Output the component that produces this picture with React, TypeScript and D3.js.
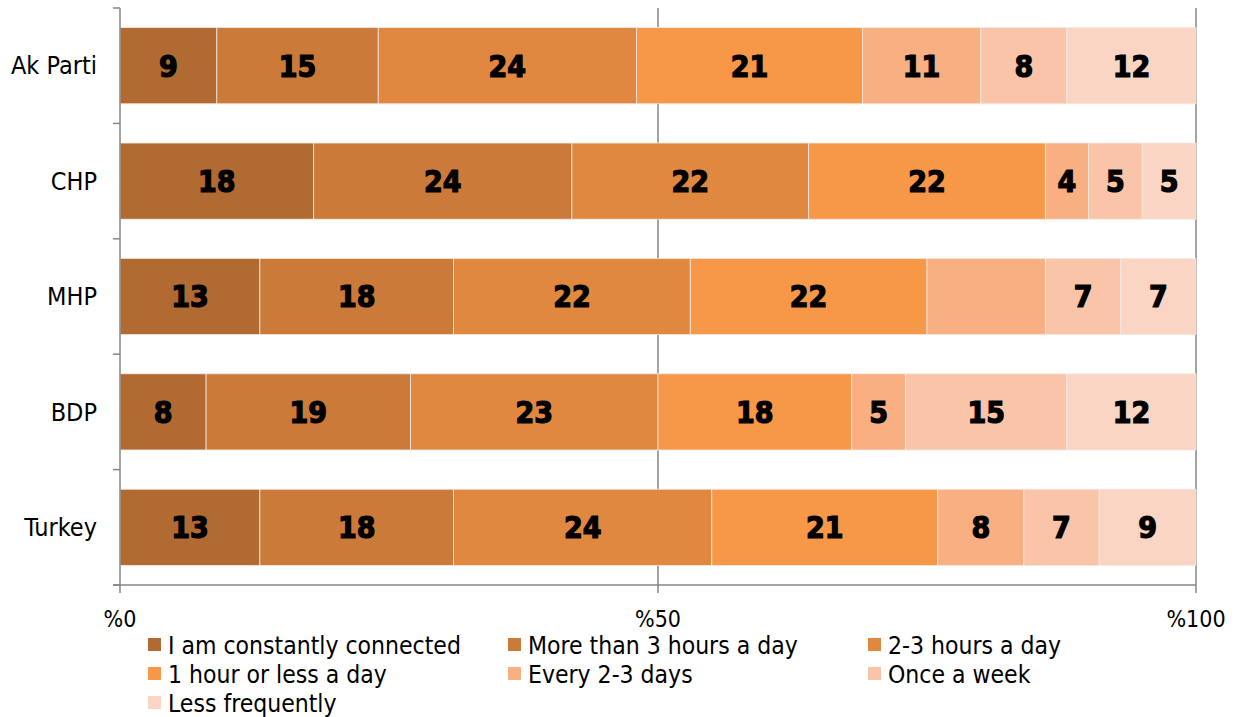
import React from "react";
import * as d3 from "d3";

const categories = ["Ak Parti", "CHP", "MHP", "BDP", "Turkey"];
const seriesNames = [
  "I am constantly connected",
  "More than 3 hours a day",
  "2-3 hours a day",
  "1 hour or less a day",
  "Every 2-3 days",
  "Once a week",
  "Less frequently",
];
const colors = ["#B06A32", "#CB7A3A", "#E08840", "#F79748", "#F8AF82", "#F9C4A8", "#FAD5C4"];
// values per category, in series order
const akParti = [9, 15, 24, 21, 11, 8, 12];
const chp = [18, 24, 22, 22, 4, 5, 5];
const mhp = [13, 18, 22, 22, 11, 7, 7];
const bdp = [8, 19, 23, 18, 5, 15, 12];
const turkey = [13, 18, 24, 21, 8, 7, 9];
const values = [akParti, chp, mhp, bdp, turkey];
// labels hidden in the original (MHP "Every 2-3 days")
const hiddenLabels = [[2, 4]];
const xTicks = [0, 50, 100];

export default function App() {
  const W = 1243, H = 717;
  const left = 120, right = 1196, top = 8, bottom = 585;
  const x = d3.scaleLinear().domain([0, 100]).range([left, right]);
  const y = d3.scaleBand<string>().domain(categories).range([top, bottom]).paddingInner(0.34).paddingOuter(0.17);
  const axisColor = "#868686";
  const catFont = "'Liberation Sans Narrow', 'DejaVu Sans Condensed', Arial, sans-serif";
  const labelFont = "'DejaVu Sans Condensed', 'DejaVu Sans', sans-serif";
  const step = (bottom - top) / categories.length;

  const legendCols = [148, 508, 868];
  const legendRows = [645, 674, 703];

  return (
    <svg width={W} height={H} style={{ position: "absolute", left: 0, top: 0, background: "#fff" }}>
      {/* gridlines */}
      {xTicks.slice(1).map((t) => (
        <line key={"g" + t} x1={x(t)} x2={x(t)} y1={top} y2={bottom} stroke={axisColor} strokeWidth={1.5} />
      ))}
      {/* bars */}
      {categories.map((c, ci) => {
        let acc = 0;
        return (
          <g key={c}>
            {values[ci].map((v, si) => {
              const x0 = x(acc);
              acc += v;
              const x1 = x(acc);
              const hidden = hiddenLabels.some(([a, b]) => a === ci && b === si);
              return (
                <g key={si}>
                  <rect x={x0} y={y(c)!} width={x1 - x0} height={y.bandwidth()} fill={colors[si]} stroke="#f3e9e2" strokeWidth={0.8} />
                  {!hidden && (
                    <text x={(x0 + x1) / 2} y={y(c)! + y.bandwidth() / 2} dy="0.36em" textAnchor="middle" fontFamily={labelFont} fontWeight="bold" fontSize={30} fill="#000" stroke="#000" strokeWidth={1.2}>
                      {v}
                    </text>
                  )}
                </g>
              );
            })}
          </g>
        );
      })}
      {/* y axis */}
      <line x1={left} x2={left} y1={top} y2={bottom} stroke={axisColor} strokeWidth={1.5} />
      {d3.range(categories.length + 1).map((i) => (
        <line key={"yt" + i} x1={left - 7} x2={left} y1={top + i * step} y2={top + i * step} stroke={axisColor} strokeWidth={1.5} />
      ))}
      {categories.map((c) => (
        <text key={"cl" + c} x={97} y={y(c)! + y.bandwidth() / 2} dy="0.35em" textAnchor="end" fontFamily={catFont} fontSize={25} fill="#000">
          {c}
        </text>
      ))}
      {/* x axis */}
      <line x1={left - 7} x2={right} y1={bottom} y2={bottom} stroke={axisColor} strokeWidth={1.5} />
      {xTicks.map((t) => (
        <g key={"xt" + t}>
          <line x1={x(t)} x2={x(t)} y1={bottom} y2={bottom + 8} stroke={axisColor} strokeWidth={1.5} />
          <text x={x(t)} y={627} textAnchor="middle" fontFamily={catFont} fontSize={23} fill="#000">
            {"%" + t}
          </text>
        </g>
      ))}
      {/* legend */}
      {seriesNames.map((s, i) => {
        const col = i % 3, row = Math.floor(i / 3);
        const lx = legendCols[col], ly = legendRows[row];
        return (
          <g key={"lg" + i}>
            <rect x={lx} y={ly - 7} width={13} height={13} fill={colors[i]} />
            <text x={lx + 20} y={ly} dy="0.35em" fontFamily={catFont} fontSize={24.5} fill="#000">
              {s}
            </text>
          </g>
        );
      })}
    </svg>
  );
}
